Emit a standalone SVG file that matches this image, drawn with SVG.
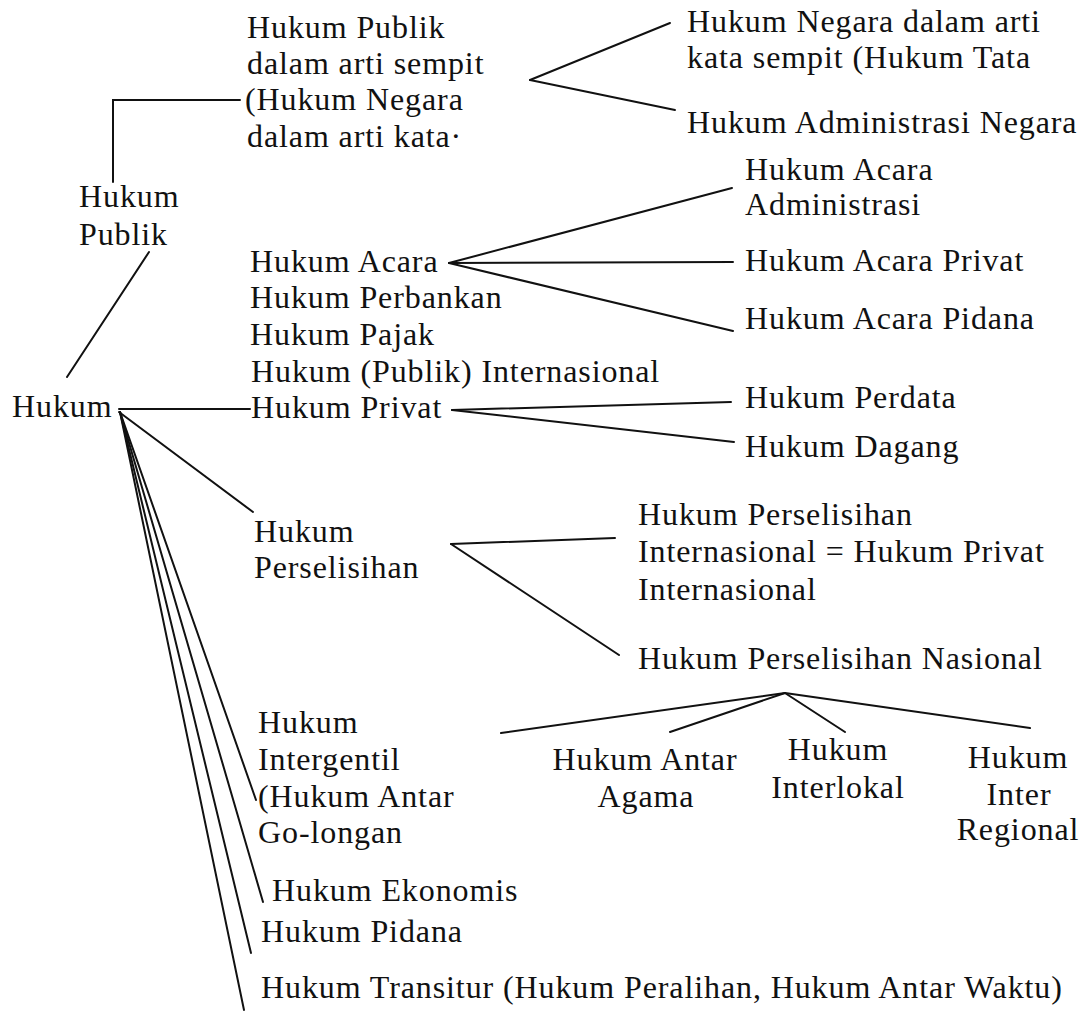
<svg xmlns="http://www.w3.org/2000/svg" width="1089" height="1013" viewBox="0 0 1089 1013">
<style>
text{font-family:"Liberation Serif","Times New Roman",serif;font-size:32px;letter-spacing:0.9px;fill:#111}
.c{text-anchor:middle}
line,polyline{stroke:#111;stroke-width:2;fill:none;stroke-linecap:round}
</style>
<rect width="1089" height="1013" fill="#fff"/>
<g id="connectors">
<polyline points="113,182 113,100 240,100"/>
<line x1="149" y1="252" x2="67" y2="377"/>
<line x1="530" y1="80" x2="670" y2="23"/>
<line x1="530" y1="80" x2="675" y2="110"/>
<line x1="449" y1="263" x2="732" y2="188"/>
<line x1="449" y1="263" x2="733" y2="262"/>
<line x1="449" y1="263" x2="733" y2="331"/>
<line x1="119" y1="409" x2="250" y2="409"/>
<line x1="452" y1="410" x2="731" y2="402"/>
<line x1="452" y1="410" x2="734" y2="442"/>
<line x1="119" y1="412" x2="253" y2="512"/>
<line x1="451" y1="544" x2="615" y2="538"/>
<line x1="451" y1="544" x2="619" y2="655"/>
<line x1="785" y1="693" x2="501" y2="733"/>
<line x1="785" y1="693" x2="670" y2="732"/>
<line x1="785" y1="693" x2="845" y2="732"/>
<line x1="785" y1="693" x2="1030" y2="728"/>
<line x1="120" y1="412" x2="256" y2="800" stroke-width="1.6"/>
<line x1="120" y1="412" x2="263" y2="902" stroke-width="1.6"/>
<line x1="120" y1="412" x2="251" y2="953" stroke-width="1.6"/>
<line x1="120" y1="412" x2="244" y2="1010" stroke-width="1.6"/>
</g>
<g id="hukum"><text x="12" y="417">Hukum</text></g>
<g id="hukum-publik"><text x="79" y="207">Hukum</text><text x="79" y="245">Publik</text></g>
<g id="publik-sempit"><text x="247" y="38">Hukum Publik</text><text x="247" y="74">dalam arti sempit</text><text x="245" y="110">(Hukum Negara</text><text x="247" y="147">dalam arti kata·</text></g>
<g id="negara-sempit"><text x="687" y="32">Hukum Negara dalam arti</text><text x="687" y="68">kata sempit (Hukum Tata</text></g>
<g id="adm-negara"><text x="687" y="133">Hukum Administrasi Negara</text></g>
<g id="acara"><text x="250" y="272">Hukum Acara</text></g>
<g id="perbankan"><text x="250" y="308">Hukum Perbankan</text></g>
<g id="pajak"><text x="250" y="345">Hukum Pajak</text></g>
<g id="internasional"><text x="251" y="382">Hukum (Publik) Internasional</text></g>
<g id="privat"><text x="251" y="418">Hukum Privat</text></g>
<g id="acara-adm"><text x="745" y="180">Hukum Acara</text><text x="745" y="215">Administrasi</text></g>
<g id="acara-privat"><text x="745" y="271">Hukum Acara Privat</text></g>
<g id="acara-pidana"><text x="745" y="329">Hukum Acara Pidana</text></g>
<g id="perdata"><text x="745" y="408">Hukum Perdata</text></g>
<g id="dagang"><text x="745" y="457">Hukum Dagang</text></g>
<g id="perselisihan"><text x="254" y="542">Hukum</text><text x="254" y="578">Perselisihan</text></g>
<g id="perselisihan-int"><text x="638" y="525">Hukum Perselisihan</text><text x="638" y="562">Internasional = Hukum Privat</text><text x="638" y="600">Internasional</text></g>
<g id="perselisihan-nas"><text x="638" y="669">Hukum Perselisihan Nasional</text></g>
<g id="antar-agama"><text class="c" x="645" y="770">Hukum Antar</text><text class="c" x="646" y="807">Agama</text></g>
<g id="interlokal"><text class="c" x="838" y="760">Hukum</text><text class="c" x="838" y="798">Interlokal</text></g>
<g id="inter-regional"><text class="c" x="1018" y="768">Hukum</text><text class="c" x="1019" y="805">Inter</text><text class="c" x="1018" y="840">Regional</text></g>
<g id="intergentil"><text x="258" y="733">Hukum</text><text x="258" y="770">Intergentil</text><text x="258" y="807">(Hukum Antar</text><text x="258" y="843">Go-longan</text></g>
<g id="ekonomis"><text x="272" y="901">Hukum Ekonomis</text></g>
<g id="pidana"><text x="261" y="942">Hukum Pidana</text></g>
<g id="transitur"><text x="261" y="998">Hukum Transitur (Hukum Peralihan, Hukum Antar Waktu)</text></g>
</svg>
